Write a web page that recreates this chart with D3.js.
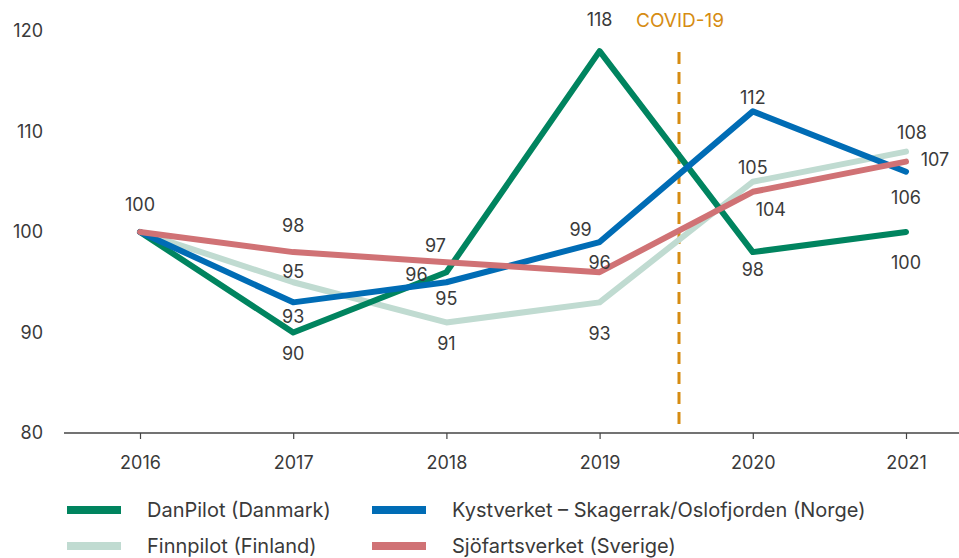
<!DOCTYPE html>
<html>
<head>
<meta charset="utf-8">
<script src="https://cdn.jsdelivr.net/npm/d3@7"></script>
<style>
  body { margin: 0; background: #fff; }
  text { font-family: Inter, Roboto, sans-serif; fill: #3a3a3a; }
</style>
</head>
<body>
<script>
const years = ['2016', '2017', '2018', '2019', '2020', '2021'];
const yTicks = [80, 90, 100, 110, 120];

const danpilot = [100, 90, 96, 118, 98, 100];
const kystverket = [100, 93, 95, 99, 112, 106];
const finnpilot = [100, 95, 91, 93, 105, 108];
const sjofart = [100, 98, 97, 96, 104, 107];

const seriesNames = ['DanPilot (Danmark)', 'Kystverket – Skagerrak/Oslofjorden (Norge)', 'Finnpilot (Finland)', 'Sjöfartsverket (Sverige)'];
const seriesColors = ['#00845f', '#006cb5', '#c0dbd1', '#d07275'];

// label placement per point: [dx, dy] offsets from the point
const labelOffsets = [
  // DanPilot
  [[0, -27], [0, 21], [-30, 2], [0, -31], [0, 18], [0, 31]],
  // Kystverket
  [null, [0, 14], [0, 16], [-19, -12], [0, -14], [0, 26]],
  // Finnpilot
  [null, [0, -11], [0, 21], [0, 31], [0, -14], [6, -19]],
  // Sjöfartsverket
  [null, [0, -26], [-11, -16], [0, -10], [18, 18], [29, -2]]
];

const width = 959, height = 558;
const svg = d3.select('body').append('svg')
  .attr('width', width)
  .attr('height', height);

const x = d3.scalePoint()
  .domain(years)
  .range([140, 906]);

const y = d3.scaleLinear()
  .domain([80, 120])
  .range([433, 31]);

/* y axis labels only */
svg.append('g')
  .selectAll('text')
  .data(yTicks)
  .enter().append('text')
  .attr('x', 43)
  .attr('y', d => y(d))
  .attr('dy', '0.35em')
  .attr('text-anchor', 'end')
  .style('font-size', '18px')
  .text(d => d);

/* x axis */
const xAxis = svg.append('g')
  .attr('transform', `translate(0, ${y(80)})`)
  .call(d3.axisBottom(x).tickSize(6).tickPadding(17).tickSizeOuter(0));

xAxis.select('.domain').remove();
xAxis.append('line')
  .attr('x1', 64).attr('x2', 959)
  .attr('stroke', '#444').attr('stroke-width', 1.5);
xAxis.selectAll('.tick line').attr('stroke', '#444').attr('stroke-width', 1.2);
xAxis.selectAll('.tick text')
  .style('font-size', '18px')
  .style('font-family', 'Inter, Roboto, sans-serif')
  .attr('fill', '#3a3a3a');

/* covid marker */
const covidX = 679;
svg.append('line')
  .attr('x1', covidX).attr('x2', covidX)
  .attr('y1', 52).attr('y2', 428)
  .attr('stroke', '#d68c12')
  .attr('stroke-width', 3)
  .attr('stroke-dasharray', '12,8');

svg.append('text')
  .attr('x', covidX + 1)
  .attr('y', 20)
  .attr('dy', '0.35em')
  .attr('text-anchor', 'middle')
  .style('font-size', '19px')
  .style('fill', '#d68c12')
  .text('COVID-19');

/* lines */
const allSeries = [danpilot, kystverket, finnpilot, sjofart];
const line = d3.line()
  .x((d, i) => x(years[i]))
  .y(d => y(d));

// draw order: finnpilot below, then others
const drawOrder = [2, 0, 1, 3];
drawOrder.forEach(s => {
  svg.append('path')
    .datum(allSeries[s])
    .attr('d', line)
    .attr('fill', 'none')
    .attr('stroke', seriesColors[s])
    .attr('stroke-width', 6)
    .attr('stroke-linejoin', 'round')
    .attr('stroke-linecap', 'round');
});

/* value labels */
allSeries.forEach((vals, s) => {
  vals.forEach((v, i) => {
    const off = labelOffsets[s][i];
    if (!off) return;
    svg.append('text')
      .attr('x', x(years[i]) + off[0])
      .attr('y', y(v) + off[1])
      .attr('dy', '0.35em')
      .attr('text-anchor', 'middle')
      .style('font-size', '18px')
      .text(v);
  });
});

/* legend */
const legendItems = [
  { i: 0, x: 67, y: 510 },
  { i: 1, x: 372, y: 510 },
  { i: 2, x: 67, y: 546 },
  { i: 3, x: 372, y: 546 }
];
const legend = svg.append('g');
legendItems.forEach(d => {
  legend.append('rect')
    .attr('x', d.x)
    .attr('y', d.y - 4)
    .attr('width', 54)
    .attr('height', 8)
    .attr('fill', seriesColors[d.i]);
  legend.append('text')
    .attr('x', d.x + 80)
    .attr('y', d.y)
    .attr('dy', '0.35em')
    .style('font-size', '20px')
    .text(seriesNames[d.i]);
});
</script>
</body>
</html>
